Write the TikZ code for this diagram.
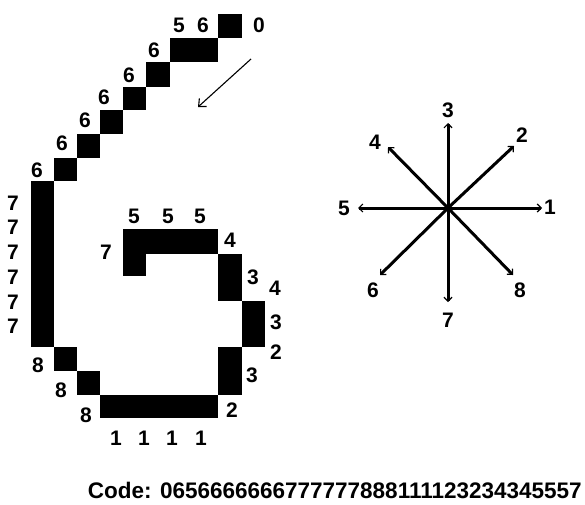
\documentclass[tikz,border=0pt]{standalone}
\usepackage{fontspec}
\setmainfont{Liberation Sans}
\usetikzlibrary{arrows.meta}
\begin{document}
\begin{tikzpicture}[x=1pt,y=-1pt,
  lab/.style={font=\fontsize{21}{21}\selectfont\bfseries, inner sep=0pt},
  pix/.style={fill=black},
  ray/.style={line width=3pt, -{Straight Barb[length=4pt,width=8pt,line width=1.2pt]}},
  pointer/.style={line width=1.1pt, -{Straight Barb[length=6pt,width=11pt,line width=1.1pt]}}]
\useasboundingbox (0,0) rectangle (585,504);
% pixel blocks of the digit
\fill[pix] (218,14) rectangle (242,38);
\fill[pix] (170,38) rectangle (218,62);
\fill[pix] (146,62) rectangle (170,87);
\fill[pix] (123,87) rectangle (146,110);
\fill[pix] (100,110) rectangle (123,134);
\fill[pix] (77,134) rectangle (100,158);
\fill[pix] (54,158) rectangle (77,181);
\fill[pix] (31,181) rectangle (54,347);
\fill[pix] (54,347) rectangle (77,371);
\fill[pix] (77,371) rectangle (100,395);
\fill[pix] (100,395) rectangle (218,418);
\fill[pix] (218,347) rectangle (242,395);
\fill[pix] (242,301) rectangle (265,347);
\fill[pix] (218,254) rectangle (242,301);
\fill[pix] (123,229) rectangle (218,254);
\fill[pix] (123,254) rectangle (146,276);
% chain labels
\node[lab] (l5a) at (179,25) {5};
\node[lab] (l6a) at (203,25) {6};
\node[lab] (l0) at (259,25) {0};
\node[lab] (l6b) at (154,50) {6};
\node[lab] (l6c) at (129,75) {6};
\node[lab] (l6d) at (104,97) {6};
\node[lab] (l6e) at (85,120) {6};
\node[lab] (l6f) at (62,143) {6};
\node[lab] (l6g) at (37,170) {6};
\node[lab] (l7a) at (13,203) {7};
\node[lab] (l7b) at (13,227) {7};
\node[lab] (l7c) at (13,252) {7};
\node[lab] (l7d) at (13,277) {7};
\node[lab] (l7e) at (13,302) {7};
\node[lab] (l7f) at (13,326) {7};
\node[lab] (l8a) at (38,365) {8};
\node[lab] (l8b) at (61,390) {8};
\node[lab] (l8c) at (86,415) {8};
\node[lab] (l1a) at (116,438) {1};
\node[lab] (l1b) at (144,438) {1};
\node[lab] (l1c) at (172,438) {1};
\node[lab] (l1d) at (201,438) {1};
\node[lab] (l2a) at (232,410) {2};
\node[lab] (l3a) at (252,375) {3};
\node[lab] (l2b) at (276,352) {2};
\node[lab] (l3b) at (276,322) {3};
\node[lab] (l4a) at (275,288) {4};
\node[lab] (l3c) at (253,277) {3};
\node[lab] (l4b) at (230,240) {4};
\node[lab] (l5b) at (200,216) {5};
\node[lab] (l5c) at (168,216) {5};
\node[lab] (l5d) at (134,216) {5};
\node[lab] (l7g) at (106,252) {7};
% direction pointer
\coordinate (ps) at (251,59);
\coordinate (pe) at (198,107);
\draw[pointer] (ps) -- (pe);
% compass
\coordinate (c) at (448,208);
\coordinate (d1) at (542,208);
\coordinate (d2) at (514,146);
\coordinate (d3) at (448,123);
\coordinate (d4) at (388,147);
\coordinate (d5) at (358,208);
\coordinate (d6) at (380,275);
\coordinate (d7) at (448,302);
\coordinate (d8) at (513,275);
\foreach \d in {1,...,8} {\draw[ray] (c) -- (d\d);}
\node[lab] (k1) at (550,207) {1};
\node[lab] (k2) at (522,135) {2};
\node[lab] (k3) at (448,110) {3};
\node[lab] (k4) at (375,142) {4};
\node[lab] (k5) at (344,208) {5};
\node[lab] (k6) at (373,290) {6};
\node[lab] (k7) at (448,320) {7};
\node[lab] (k8) at (520,290) {8};
% code
\node[anchor=base east, inner sep=0pt, font=\fontsize{22.5}{22.5}\selectfont\bfseries] (code) at (582,498) {Code: 0656666666777777888111123234345557};
\end{tikzpicture}
\end{document}
